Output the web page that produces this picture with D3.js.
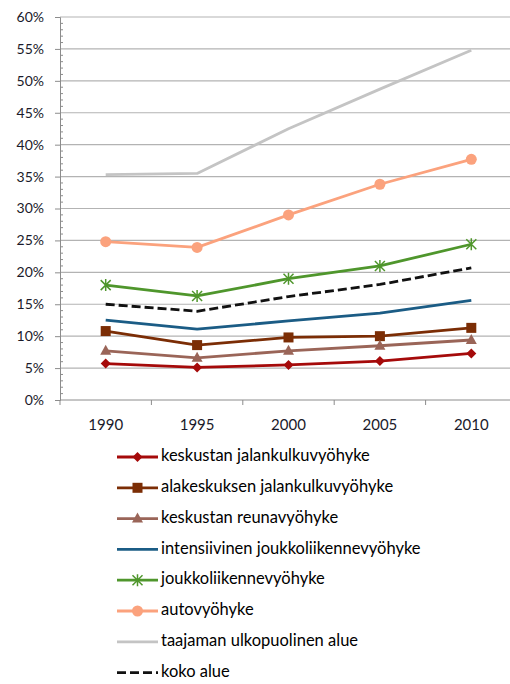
<!DOCTYPE html>
<html>
<head>
<meta charset="utf-8">
<script src="https://cdn.jsdelivr.net/npm/d3@7"></script>
<style>
  html, body { margin: 0; padding: 0; background: #fff; }
  svg { display: block; font-family: Lato, "Open Sans", sans-serif; }
</style>
</head>
<body>
<svg id="chart" width="510" height="684"></svg>
<script>

// years (categories)
let years = ["1990", "1995", "2000", "2005", "2010"];

// y axis tick labels
let yTicks = [0, 0.05, 0.10, 0.15, 0.20, 0.25, 0.30, 0.35, 0.40, 0.45, 0.50, 0.55, 0.60];

// series names
let names = [
  "keskustan jalankulkuvyöhyke",
  "alakeskuksen jalankulkuvyöhyke",
  "keskustan reunavyöhyke",
  "intensiivinen joukkoliikennevyöhyke",
  "joukkoliikennevyöhyke",
  "autovyöhyke",
  "taajaman ulkopuolinen alue",
  "koko alue"
];

// series values (share)
let keskustanJalankulku = [0.057, 0.051, 0.055, 0.061, 0.073];
let alakeskuksenJalankulku = [0.108, 0.086, 0.098, 0.100, 0.113];
let keskustanReuna = [0.077, 0.066, 0.077, 0.085, 0.094];
let intensiivinenJoukko = [0.125, 0.111, 0.124, 0.136, 0.156];
let joukkoliikenne = [0.180, 0.163, 0.190, 0.210, 0.244];
let autovyohyke = [0.248, 0.239, 0.290, 0.338, 0.377];
let taajamanUlko = [0.353, 0.355, 0.425, 0.487, 0.548];
let kokoAlue = [0.150, 0.139, 0.162, 0.181, 0.207];

// styles
let colors = ["#a50a0a", "#7b2d05", "#9a6558", "#1b5c85", "#4f962c", "#fba27d", "#c4c4c4", "#111111"];
let markers = ["diamond", "square", "triangle", null, "star", "circle", null, null];
let dashes = [null, null, null, null, null, null, null, "9,4"];

let seriesValues = [
  keskustanJalankulku, alakeskuksenJalankulku, keskustanReuna, intensiivinenJoukko,
  joukkoliikenne, autovyohyke, taajamanUlko, kokoAlue
];

let series = names.map((n, i) => ({
  name: n,
  values: seriesValues[i],
  color: colors[i],
  marker: markers[i],
  dash: dashes[i]
}));

let svg = d3.select("#chart");

// plot area
let ml = 60, mt = 17, plotW = 457, plotH = 383;

let x = d3.scaleBand().domain(years).range([ml, ml + plotW]);
let y = d3.scaleLinear().domain([0, 0.6]).range([mt + plotH, mt]);

// grid lines
svg.append("g")
  .selectAll("line")
  .data(yTicks.slice(1))
  .enter()
  .append("line")
  .attr("x1", ml)
  .attr("x2", 510)
  .attr("y1", d => y(d))
  .attr("y2", d => y(d))
  .attr("stroke", "#b3b3b3")
  .attr("stroke-width", 1.2);

// y axis
let yAxis = d3.axisLeft(y)
  .tickValues(yTicks)
  .tickFormat(d3.format(".0%"))
  .tickSize(5)
  .tickPadding(11);
let gy = svg.append("g")
  .attr("transform", `translate(${ml},0)`)
  .call(yAxis);
gy.select(".domain").attr("stroke", "#8c8c8c");
gy.selectAll(".tick line").attr("stroke", "#8c8c8c");
gy.selectAll(".tick text")
  .attr("font-size", "14px")
  .attr("fill", "#1a1a2a")
  .attr("font-family", "Lato, sans-serif");

// minor ticks (1 %), inside the axis
svg.append("g")
  .selectAll("line")
  .data(d3.range(0, 61).filter(v => v % 5 !== 0).map(v => v / 100))
  .enter()
  .append("line")
  .attr("x1", ml)
  .attr("x2", ml + 3)
  .attr("y1", d => y(d))
  .attr("y2", d => y(d))
  .attr("stroke", "#8c8c8c");

// x axis
let xAxis = d3.axisBottom(x).tickSize(0).tickPadding(19);
let gx = svg.append("g")
  .attr("transform", `translate(0,${mt + plotH})`)
  .call(xAxis);
gx.select(".domain").attr("stroke", "#8c8c8c").attr("d", `M${ml},0H510`);
gx.selectAll(".tick text")
  .attr("font-size", "15px")
  .attr("fill", "#1a1a2a")
  .attr("font-family", "Lato, sans-serif");

// category boundary ticks
svg.append("g")
  .selectAll("line")
  .data(years)
  .enter()
  .append("line")
  .attr("x1", d => x(d))
  .attr("x2", d => x(d))
  .attr("y1", mt + plotH)
  .attr("y2", mt + plotH + 5)
  .attr("stroke", "#8c8c8c");

// marker drawing helper
function drawMarker(g, type, color, cx, cy, s) {
  if (type === "diamond") {
    g.append("path")
      .attr("d", `M${cx},${cy - s}L${cx + s},${cy}L${cx},${cy + s}L${cx - s},${cy}Z`)
      .attr("fill", color);
  } else if (type === "square") {
    g.append("rect")
      .attr("x", cx - s).attr("y", cy - s)
      .attr("width", 2 * s).attr("height", 2 * s)
      .attr("fill", color);
  } else if (type === "triangle") {
    g.append("path")
      .attr("d", `M${cx},${cy - s - 1}L${cx + s + 0.5},${cy + s - 1}L${cx - s - 0.5},${cy + s - 1}Z`)
      .attr("fill", color);
  } else if (type === "circle") {
    g.append("circle")
      .attr("cx", cx).attr("cy", cy).attr("r", s + 0.5)
      .attr("fill", color);
  } else if (type === "star") {
    let r = s;
    let d = `M${cx - r},${cy - r}L${cx + r},${cy + r}M${cx - r},${cy + r}L${cx + r},${cy - r}M${cx},${cy - r - 1}L${cx},${cy + r + 1}`;
    g.append("path")
      .attr("d", d)
      .attr("stroke", color)
      .attr("stroke-width", 1.5)
      .attr("fill", "none");
  }
}

// lines (draw top series first so lower ones sit on top like the picture)
let line = d3.line()
  .x((d, i) => x(years[i]) + x.bandwidth() / 2)
  .y(d => y(d));

let order = [6, 5, 4, 7, 3, 1, 2, 0];
order.forEach(k => {
  let s = series[k];
  let g = svg.append("g").attr("class", "series");
  g.append("path")
    .datum(s.values)
    .attr("d", line)
    .attr("fill", "none")
    .attr("stroke", s.color)
    .attr("stroke-width", 2.8)
    .attr("stroke-dasharray", s.dash)
    .attr("stroke-linejoin", "round");
  if (s.marker) {
    s.values.forEach((v, i) => {
      drawMarker(g, s.marker, s.color, x(years[i]) + x.bandwidth() / 2, y(v), 5);
    });
  }
});

// legend
let lg = svg.append("g").attr("class", "legend");
let lx = 117, ly = 457, rowH = 30.8, lw = 41;
series.forEach((s, i) => {
  let cy = ly + rowH * i;
  lg.append("line")
    .attr("x1", lx).attr("x2", lx + lw)
    .attr("y1", cy).attr("y2", cy)
    .attr("stroke", s.color)
    .attr("stroke-width", 2.8)
    .attr("stroke-dasharray", s.dash);
  if (s.marker) drawMarker(lg, s.marker, s.color, lx + lw / 2, cy, 5);
  lg.append("text")
    .attr("x", lx + lw + 3)
    .attr("y", cy)
    .attr("dominant-baseline", "middle")
    .attr("font-size", "16.5px")
    .attr("fill", "#000")
    .text(s.name);
});

</script>
</body>
</html>
